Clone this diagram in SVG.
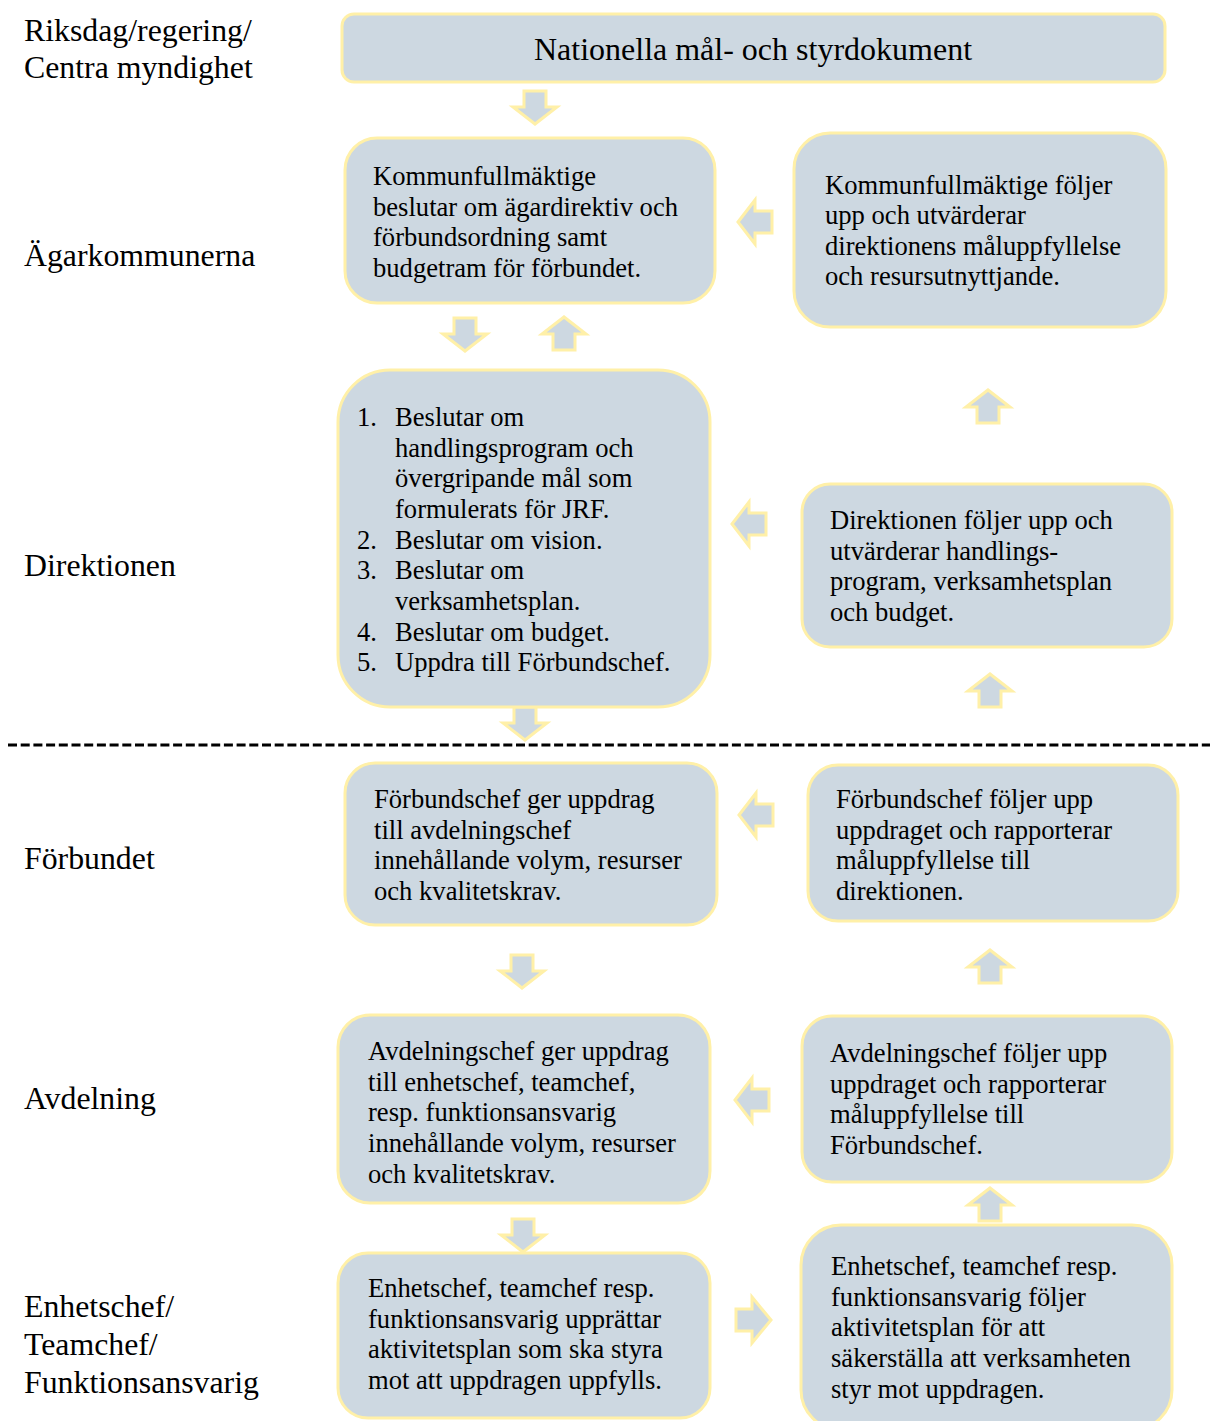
<svg xmlns="http://www.w3.org/2000/svg" width="1210" height="1421" viewBox="0 0 1210 1421">
<style>
.box{fill:#CDD8E1;stroke:#FFF0A8;stroke-width:3}
.arr{fill:#CDD8E1;stroke:#FFF0A8;stroke-width:3;stroke-linejoin:miter}
.t{font-family:"Liberation Serif","Times New Roman",serif;font-size:26.6px;fill:#000}
.lbl{font-family:"Liberation Serif","Times New Roman",serif;font-size:31.8px;fill:#000}
.title{font-family:"Liberation Serif","Times New Roman",serif;font-size:32px;fill:#000}
</style>
<defs>
<polygon id="down" points="-11,0 11,0 11,16 22,16 0,33 -22,16 -11,16"/>
<polygon id="up" points="-11,33 11,33 11,17 22,17 0,0 -22,17 -11,17"/>
<polygon id="left" points="0,0 17,-22 17,-11 34,-11 34,11 17,11 17,22"/>
<polygon id="right" points="0,0 -19,-23 -19,-11 -35,-11 -35,11 -19,11 -19,23"/>
</defs>
<rect width="1210" height="1421" fill="#fff"/>

<g id="labels">
<text class="lbl" x="24" y="41">Riksdag/regering/</text>
<text class="lbl" x="24" y="78">Centra myndighet</text>
<text class="lbl" x="24" y="266">Ägarkommunerna</text>
<text class="lbl" x="24" y="576">Direktionen</text>
<text class="lbl" x="24" y="869">Förbundet</text>
<text class="lbl" x="24" y="1109">Avdelning</text>
<text class="lbl" x="24" y="1317">Enhetschef/</text>
<text class="lbl" x="24" y="1355">Teamchef/</text>
<text class="lbl" x="24" y="1393">Funktionsansvarig</text>
</g>

<g id="connectors">
<line x1="8" y1="745" x2="1210" y2="745" stroke="#000" stroke-width="3" stroke-dasharray="9 3.7"/>
<use href="#down" class="arr" x="535" y="91"/>
<use href="#down" class="arr" x="465" y="318"/>
<use href="#up" class="arr" x="564" y="317"/>
<use href="#left" class="arr" x="738" y="222"/>
<use href="#left" class="arr" x="732" y="524"/>
<use href="#up" class="arr" x="988" y="390"/>
<use href="#up" class="arr" x="990" y="674"/>
<use href="#down" class="arr" x="525" y="707"/>
<use href="#left" class="arr" x="739" y="815"/>
<use href="#down" class="arr" x="522" y="955"/>
<use href="#up" class="arr" x="990" y="950"/>
<use href="#left" class="arr" x="735" y="1100"/>
<use href="#up" class="arr" x="990" y="1188"/>
<use href="#down" class="arr" x="523" y="1219"/>
<use href="#right" class="arr" x="771" y="1320"/>
</g>

<g id="node-national">
<rect class="box" x="342" y="14" width="823" height="68" rx="12"/>
<text class="title" x="753" y="60" text-anchor="middle">Nationella mål- och styrdokument</text>
</g>

<g id="node-agar-beslut">
<rect class="box" x="345" y="138" width="370" height="165" rx="32"/>
<text class="t" x="373" y="185">Kommunfullmäktige</text>
<text class="t" x="373" y="216">beslutar om ägardirektiv och</text>
<text class="t" x="373" y="246">förbundsordning samt</text>
<text class="t" x="373" y="277">budgetram för förbundet.</text>
</g>

<g id="node-agar-uppfoljning">
<rect class="box" x="794" y="133" width="372" height="194" rx="36"/>
<text class="t" x="825" y="194">Kommunfullmäktige följer</text>
<text class="t" x="825" y="224">upp och utvärderar</text>
<text class="t" x="825" y="255">direktionens måluppfyllelse</text>
<text class="t" x="825" y="285">och resursutnyttjande.</text>
</g>

<g id="node-direktion-beslut">
<rect class="box" x="338" y="370" width="372" height="337" rx="52"/>
<text class="t" x="357" y="426">1.</text><text class="t" x="395" y="426">Beslutar om</text>
<text class="t" x="395" y="457">handlingsprogram och</text>
<text class="t" x="395" y="487">övergripande mål som</text>
<text class="t" x="395" y="518">formulerats för JRF.</text>
<text class="t" x="357" y="549">2.</text><text class="t" x="395" y="549">Beslutar om vision.</text>
<text class="t" x="357" y="579">3.</text><text class="t" x="395" y="579">Beslutar om</text>
<text class="t" x="395" y="610">verksamhetsplan.</text>
<text class="t" x="357" y="641">4.</text><text class="t" x="395" y="641">Beslutar om budget.</text>
<text class="t" x="357" y="671">5.</text><text class="t" x="395" y="671">Uppdra till Förbundschef.</text>
</g>

<g id="node-direktion-uppfoljning">
<rect class="box" x="802" y="484" width="370" height="163" rx="28"/>
<text class="t" x="830" y="529">Direktionen följer upp och</text>
<text class="t" x="830" y="560">utvärderar handlings-</text>
<text class="t" x="830" y="590">program, verksamhetsplan</text>
<text class="t" x="830" y="621">och budget.</text>
</g>

<g id="node-forbund-uppdrag">
<rect class="box" x="345" y="763" width="372" height="162" rx="30"/>
<text class="t" x="374" y="808">Förbundschef ger uppdrag</text>
<text class="t" x="374" y="839">till avdelningschef</text>
<text class="t" x="374" y="869">innehållande volym, resurser</text>
<text class="t" x="374" y="900">och kvalitetskrav.</text>
</g>

<g id="node-forbund-uppfoljning">
<rect class="box" x="808" y="765" width="370" height="156" rx="30"/>
<text class="t" x="836" y="808">Förbundschef följer upp</text>
<text class="t" x="836" y="839">uppdraget och rapporterar</text>
<text class="t" x="836" y="869">måluppfyllelse till</text>
<text class="t" x="836" y="900">direktionen.</text>
</g>

<g id="node-avdelning-uppdrag">
<rect class="box" x="338" y="1015" width="372" height="188" rx="32"/>
<text class="t" x="368" y="1060">Avdelningschef ger uppdrag</text>
<text class="t" x="368" y="1091">till enhetschef, teamchef,</text>
<text class="t" x="368" y="1121">resp. funktionsansvarig</text>
<text class="t" x="368" y="1152">innehållande volym, resurser</text>
<text class="t" x="368" y="1183">och kvalitetskrav.</text>
</g>

<g id="node-avdelning-uppfoljning">
<rect class="box" x="802" y="1016" width="370" height="166" rx="30"/>
<text class="t" x="830" y="1062">Avdelningschef följer upp</text>
<text class="t" x="830" y="1093">uppdraget och rapporterar</text>
<text class="t" x="830" y="1123">måluppfyllelse till</text>
<text class="t" x="830" y="1154">Förbundschef.</text>
</g>

<g id="node-enhet-plan">
<rect class="box" x="338" y="1253" width="372" height="165" rx="30"/>
<text class="t" x="368" y="1297">Enhetschef, teamchef resp.</text>
<text class="t" x="368" y="1328">funktionsansvarig upprättar</text>
<text class="t" x="368" y="1358">aktivitetsplan som ska styra</text>
<text class="t" x="368" y="1389">mot att uppdragen uppfylls.</text>
</g>

<g id="node-enhet-uppfoljning">
<rect class="box" x="801" y="1225" width="371" height="205" rx="40"/>
<text class="t" x="831" y="1275">Enhetschef, teamchef resp.</text>
<text class="t" x="831" y="1306">funktionsansvarig följer</text>
<text class="t" x="831" y="1336">aktivitetsplan för att</text>
<text class="t" x="831" y="1367">säkerställa att verksamheten</text>
<text class="t" x="831" y="1398">styr mot uppdragen.</text>
</g>
</svg>
